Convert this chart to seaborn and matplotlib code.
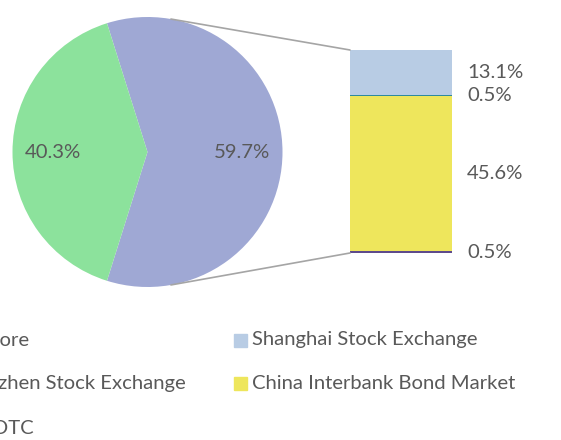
import numpy as np
import matplotlib
matplotlib.use('Agg')
import matplotlib.pyplot as plt
from matplotlib.patches import ConnectionPatch, Rectangle
import seaborn as sns

# pie: "Other" (broken out in the bar) and Offshore
pie_names = ['Other', 'Offshore']
pie_values = [59.7, 40.3]
pie_colors = ['#9FA8D4', '#8CE29C']

# bar breakdown of the "Other" slice, top to bottom
bar_names = ['Shanghai Stock Exchange', 'Shenzhen Stock Exchange',
             'China Interbank Bond Market', 'OTC']
bar_values = [13.1, 0.5, 45.6, 0.5]
bar_colors = ['#B8CCE4', '#2E8A9E', '#EEE65C', '#5E4B8B']

legend_names = ['Offshore', 'Shanghai Stock Exchange', 'Shenzhen Stock Exchange',
                'China Interbank Bond Market', 'OTC']
legend_colors = ['#8CE29C', '#B8CCE4', '#2E8A9E', '#EEE65C', '#5E4B8B']

sns.set_theme(style='white')
plt.rcParams['font.family'] = ['Lato', 'DejaVu Sans']
txt = '#595959'
fs = 14.6
W, H = 561, 440


def rect(x0, y0, x1, y1):
    return [x0 / W, 1 - y1 / H, (x1 - x0) / W, (y1 - y0) / H]


fig = plt.figure(figsize=(5.61, 4.40), dpi=100)
fig.patch.set_facecolor('white')

# Pie
ax_pie = fig.add_axes(rect(12.5, 17, 282.5, 287))
start = -pie_values[0] / sum(pie_values) * 180
wedges, texts, autotexts = ax_pie.pie(
    pie_values, colors=pie_colors, startangle=start, radius=1,
    autopct='%.1f%%', pctdistance=0.7, wedgeprops=dict(linewidth=0),
    textprops=dict(color=txt, fontsize=fs))
ax_pie.set_xlim(-1, 1)
ax_pie.set_ylim(-1, 1)
ax_pie.set_aspect('equal')
ax_pie.axis('off')

# Stacked bar (drawn as overlapping cumulative bars, largest first)
ax_bar = fig.add_axes(rect(350, 50, 452, 253))
stack_vals = bar_values[::-1]
stack_cols = bar_colors[::-1]
cum = np.cumsum(stack_vals)
for c, col in zip(cum[::-1], stack_cols[::-1]):
    sns.barplot(x=[0], y=[c], color=col, width=1, saturation=1,
                linewidth=0, ax=ax_bar)
ax_bar.set_xlim(-0.5, 0.5)
ax_bar.set_ylim(0, cum[-1])
ax_bar.axis('off')

bottoms = cum - np.array(stack_vals)
for b, v in zip(bottoms, stack_vals):
    ax_bar.annotate(f'{v:.1f}%', xy=(0.5, b + v / 2), xytext=(11, 0),
                    textcoords='offset points', ha='left', va='center',
                    color=txt, fontsize=fs, annotation_clip=False)

# connector lines
th = np.deg2rad(80)
for sgn, yb in [(1, cum[-1]), (-1, 0)]:
    con = ConnectionPatch(xyA=(np.cos(th), sgn * np.sin(th)), coordsA=ax_pie.transData,
                          xyB=(-0.5, yb), coordsB=ax_bar.transData,
                          color='#A5A5A5', linewidth=1.2)
    fig.add_artist(con)

# legend (left column partly cut off by the image edge, as in the source)
rows = [340, 383, 428]
left_ends = [29, 186, 34]
left_items = [0, 2, 4]
for r, xe, i in zip(rows, left_ends, left_items):
    fig.text(xe / W, 1 - r / H, legend_names[i], ha='right', va='center',
             color=txt, fontsize=fs)
for r, i in zip(rows[:2], [1, 3]):
    fig.add_artist(Rectangle((234 / W, 1 - (r + 6.5) / H), 13 / W, 13 / H,
                             transform=fig.transFigure, color=legend_colors[i]))
    fig.text(252 / W, 1 - r / H, legend_names[i], ha='left', va='center',
             color=txt, fontsize=fs)

fig.savefig('out.png', dpi=100)
